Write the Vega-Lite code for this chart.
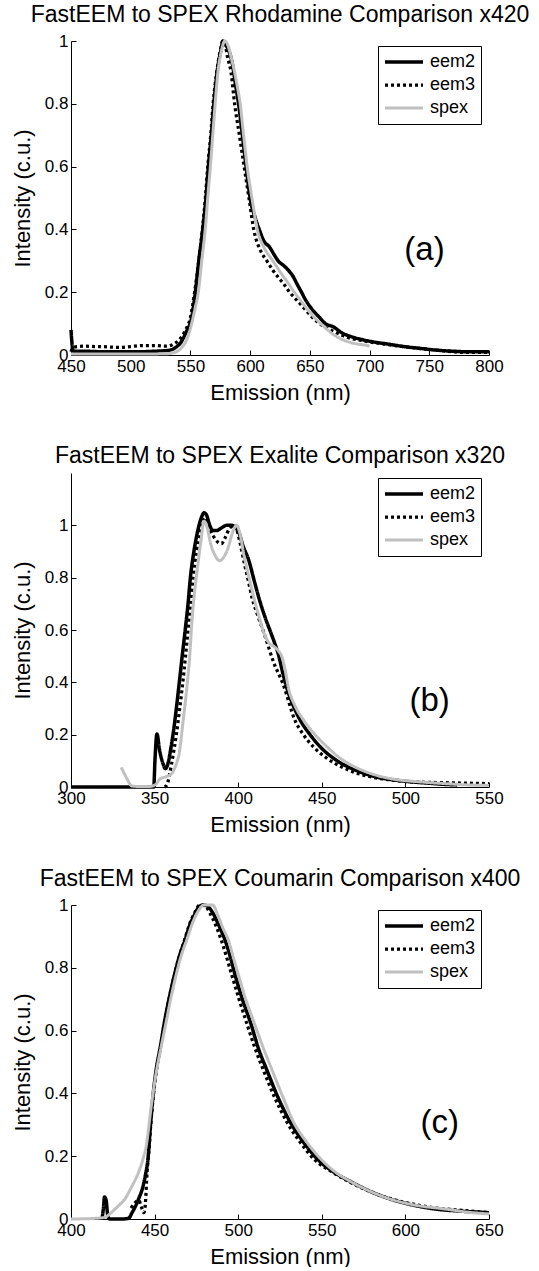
{
  "$schema": "https://vega.github.io/schema/vega-lite/v6.json",
  "background": "white",
  "padding": {"left": 11, "top": 4, "right": 0, "bottom": 0},
  "spacing": 118,
  "bounds": "flush",
  "config": {
    "view": {"stroke": null},
    "font": "Liberation Sans",
    "axis": {"domainColor": "black", "domainWidth": 1, "tickColor": "black", "tickSize": -5, "labelColor": "black", "titleColor": "black", "labelFontSize": 17, "titleFontSize": 22, "titleFontWeight": "normal", "grid": false, "labelOverlap": false, "labelFlush": false, "labelPadding": 8},
    "axisX": {"titlePadding": 8},
    "axisY": {"titlePadding": 10},
    "title": {"fontSize": 23, "fontWeight": "normal", "color": "black", "anchor": "middle", "frame": "group", "offset": 5},
    "legend": {"orient": "none", "legendX": 307, "legendY": 5, "strokeColor": "black", "fillColor": "white", "padding": 5, "symbolType": "stroke", "symbolSize": 1444, "labelFontSize": 18, "labelColor": "black", "clipHeight": 22, "rowPadding": 1, "labelOffset": 5, "title": null}
  },
  "datasets": {
    "a": [
      {"series":"eem2","nm":450,"intensity":0.08},{"series":"eem2","nm":451,"intensity":0.03},{"series":"eem2","nm":452,"intensity":0.012},{"series":"eem2","nm":460,"intensity":0.012},{"series":"eem2","nm":480,"intensity":0.01},{"series":"eem2","nm":500,"intensity":0.01},{"series":"eem2","nm":520,"intensity":0.012},{"series":"eem2","nm":532,"intensity":0.015},{"series":"eem2","nm":538,"intensity":0.025},{"series":"eem2","nm":542,"intensity":0.04},{"series":"eem2","nm":546,"intensity":0.07},{"series":"eem2","nm":551,"intensity":0.12},{"series":"eem2","nm":554,"intensity":0.196},{"series":"eem2","nm":557,"intensity":0.3},{"series":"eem2","nm":560.3,"intensity":0.4},{"series":"eem2","nm":563,"intensity":0.5},{"series":"eem2","nm":565,"intensity":0.6},{"series":"eem2","nm":567.5,"intensity":0.7},{"series":"eem2","nm":569.6,"intensity":0.8},{"series":"eem2","nm":573,"intensity":0.92},{"series":"eem2","nm":575.5,"intensity":0.97},{"series":"eem2","nm":577.3,"intensity":1.0},{"series":"eem2","nm":579,"intensity":0.99},{"series":"eem2","nm":582,"intensity":0.97},{"series":"eem2","nm":585,"intensity":0.93},{"series":"eem2","nm":587.4,"intensity":0.87},{"series":"eem2","nm":590.3,"intensity":0.8},{"series":"eem2","nm":593.5,"intensity":0.7},{"series":"eem2","nm":596.6,"intensity":0.6},{"series":"eem2","nm":600.4,"intensity":0.49},{"series":"eem2","nm":604,"intensity":0.44},{"series":"eem2","nm":607.6,"intensity":0.4},{"series":"eem2","nm":612,"intensity":0.36},{"series":"eem2","nm":616,"intensity":0.345},{"series":"eem2","nm":620,"intensity":0.32},{"series":"eem2","nm":623.4,"intensity":0.3},{"series":"eem2","nm":628,"intensity":0.285},{"series":"eem2","nm":632,"intensity":0.27},{"series":"eem2","nm":636,"intensity":0.25},{"series":"eem2","nm":639,"intensity":0.228},{"series":"eem2","nm":643,"intensity":0.2},{"series":"eem2","nm":646.5,"intensity":0.175},{"series":"eem2","nm":652,"intensity":0.145},{"series":"eem2","nm":658,"intensity":0.12},{"series":"eem2","nm":663,"intensity":0.1},{"series":"eem2","nm":669.5,"intensity":0.09},{"series":"eem2","nm":677,"intensity":0.07},{"series":"eem2","nm":685,"intensity":0.058},{"series":"eem2","nm":695,"intensity":0.048},{"series":"eem2","nm":702.6,"intensity":0.042},{"series":"eem2","nm":715,"intensity":0.035},{"series":"eem2","nm":728.6,"intensity":0.027},{"series":"eem2","nm":740,"intensity":0.022},{"series":"eem2","nm":754.5,"intensity":0.016},{"series":"eem2","nm":770,"intensity":0.012},{"series":"eem2","nm":785,"intensity":0.01},{"series":"eem2","nm":800,"intensity":0.01},
      {"series":"eem3","nm":450,"intensity":0.01},{"series":"eem3","nm":452,"intensity":0.025},{"series":"eem3","nm":460,"intensity":0.028},{"series":"eem3","nm":470,"intensity":0.027},{"series":"eem3","nm":480,"intensity":0.026},{"series":"eem3","nm":490,"intensity":0.024},{"series":"eem3","nm":500,"intensity":0.027},{"series":"eem3","nm":510,"intensity":0.03},{"series":"eem3","nm":520,"intensity":0.03},{"series":"eem3","nm":530,"intensity":0.028},{"series":"eem3","nm":536,"intensity":0.035},{"series":"eem3","nm":541,"intensity":0.05},{"series":"eem3","nm":546,"intensity":0.08},{"series":"eem3","nm":550,"intensity":0.12},{"series":"eem3","nm":553.5,"intensity":0.2},{"series":"eem3","nm":557,"intensity":0.3},{"series":"eem3","nm":560,"intensity":0.4},{"series":"eem3","nm":562.5,"intensity":0.5},{"series":"eem3","nm":564.5,"intensity":0.6},{"series":"eem3","nm":567,"intensity":0.7},{"series":"eem3","nm":569,"intensity":0.8},{"series":"eem3","nm":572,"intensity":0.9},{"series":"eem3","nm":575,"intensity":0.97},{"series":"eem3","nm":577,"intensity":1.0},{"series":"eem3","nm":579,"intensity":0.99},{"series":"eem3","nm":581,"intensity":0.95},{"series":"eem3","nm":584,"intensity":0.9},{"series":"eem3","nm":587,"intensity":0.8},{"series":"eem3","nm":591,"intensity":0.7},{"series":"eem3","nm":595,"intensity":0.6},{"series":"eem3","nm":599,"intensity":0.5},{"series":"eem3","nm":603,"intensity":0.4},{"series":"eem3","nm":609,"intensity":0.33},{"series":"eem3","nm":614,"intensity":0.3},{"series":"eem3","nm":619,"intensity":0.27},{"series":"eem3","nm":624,"intensity":0.245},{"series":"eem3","nm":627.8,"intensity":0.228},{"series":"eem3","nm":633,"intensity":0.2},{"series":"eem3","nm":639,"intensity":0.175},{"series":"eem3","nm":645,"intensity":0.15},{"series":"eem3","nm":652,"intensity":0.12},{"series":"eem3","nm":660,"intensity":0.095},{"series":"eem3","nm":670,"intensity":0.075},{"series":"eem3","nm":680,"intensity":0.058},{"series":"eem3","nm":695,"intensity":0.045},{"series":"eem3","nm":710,"intensity":0.036},{"series":"eem3","nm":730,"intensity":0.026},{"series":"eem3","nm":750,"intensity":0.018},{"series":"eem3","nm":765,"intensity":0.012},{"series":"eem3","nm":780,"intensity":0.008},{"series":"eem3","nm":800,"intensity":0.008},
      {"series":"spex","nm":450,"intensity":0.003},{"series":"spex","nm":500,"intensity":0.003},{"series":"spex","nm":530,"intensity":0.004},{"series":"spex","nm":538,"intensity":0.01},{"series":"spex","nm":543,"intensity":0.025},{"series":"spex","nm":547,"intensity":0.05},{"series":"spex","nm":551,"intensity":0.1},{"series":"spex","nm":554,"intensity":0.15},{"series":"spex","nm":556.6,"intensity":0.2},{"series":"spex","nm":559.5,"intensity":0.3},{"series":"spex","nm":562.4,"intensity":0.4},{"series":"spex","nm":564.5,"intensity":0.5},{"series":"spex","nm":566.7,"intensity":0.6},{"series":"spex","nm":568.7,"intensity":0.7},{"series":"spex","nm":570.7,"intensity":0.8},{"series":"spex","nm":573,"intensity":0.9},{"series":"spex","nm":576,"intensity":0.97},{"series":"spex","nm":578.8,"intensity":1.0},{"series":"spex","nm":581,"intensity":0.99},{"series":"spex","nm":584,"intensity":0.95},{"series":"spex","nm":587,"intensity":0.9},{"series":"spex","nm":589.5,"intensity":0.85},{"series":"spex","nm":591.7,"intensity":0.8},{"series":"spex","nm":594.5,"intensity":0.7},{"series":"spex","nm":597.5,"intensity":0.6},{"series":"spex","nm":601.5,"intensity":0.5},{"series":"spex","nm":606,"intensity":0.4},{"series":"spex","nm":612,"intensity":0.34},{"series":"spex","nm":619,"intensity":0.3},{"series":"spex","nm":626,"intensity":0.26},{"series":"spex","nm":632,"intensity":0.228},{"series":"spex","nm":637,"intensity":0.2},{"series":"spex","nm":642,"intensity":0.175},{"series":"spex","nm":648,"intensity":0.145},{"series":"spex","nm":653.7,"intensity":0.12},{"series":"spex","nm":662,"intensity":0.09},{"series":"spex","nm":668,"intensity":0.07},{"series":"spex","nm":676.7,"intensity":0.05},{"series":"spex","nm":687,"intensity":0.037},{"series":"spex","nm":698,"intensity":0.03},{"series":"spex","nm":700,"intensity":0.028}
    ],
    "b": [
      {"series":"eem2","nm":300,"intensity":0},{"series":"eem2","nm":340,"intensity":0},{"series":"eem2","nm":349.5,"intensity":0},{"series":"eem2","nm":350.2,"intensity":0.1},{"series":"eem2","nm":351.4,"intensity":0.203},{"series":"eem2","nm":353,"intensity":0.14},{"series":"eem2","nm":355,"intensity":0.09},{"series":"eem2","nm":356.4,"intensity":0.07},{"series":"eem2","nm":358,"intensity":0.09},{"series":"eem2","nm":359.5,"intensity":0.14},{"series":"eem2","nm":361,"intensity":0.2},{"series":"eem2","nm":363,"intensity":0.3},{"series":"eem2","nm":364.6,"intensity":0.39},{"series":"eem2","nm":366.5,"intensity":0.5},{"series":"eem2","nm":368.3,"intensity":0.6},{"series":"eem2","nm":370,"intensity":0.7},{"series":"eem2","nm":371.4,"intensity":0.8},{"series":"eem2","nm":373.5,"intensity":0.9},{"series":"eem2","nm":375.5,"intensity":0.97},{"series":"eem2","nm":378,"intensity":1.03},{"series":"eem2","nm":379.6,"intensity":1.048},{"series":"eem2","nm":381,"intensity":1.04},{"series":"eem2","nm":383,"intensity":1.0},{"series":"eem2","nm":384.8,"intensity":0.98},{"series":"eem2","nm":387,"intensity":0.98},{"series":"eem2","nm":390,"intensity":0.99},{"series":"eem2","nm":393,"intensity":1.0},{"series":"eem2","nm":396,"intensity":1.0},{"series":"eem2","nm":398.5,"intensity":0.99},{"series":"eem2","nm":400.2,"intensity":0.975},{"series":"eem2","nm":403,"intensity":0.92},{"series":"eem2","nm":406.4,"intensity":0.865},{"series":"eem2","nm":409.5,"intensity":0.79},{"series":"eem2","nm":412.5,"intensity":0.72},{"series":"eem2","nm":416,"intensity":0.65},{"series":"eem2","nm":419.8,"intensity":0.585},{"series":"eem2","nm":421.8,"intensity":0.55},{"series":"eem2","nm":423.9,"intensity":0.51},{"series":"eem2","nm":426.5,"intensity":0.44},{"series":"eem2","nm":429,"intensity":0.38},{"series":"eem2","nm":433,"intensity":0.31},{"series":"eem2","nm":437.2,"intensity":0.254},{"series":"eem2","nm":443,"intensity":0.2},{"series":"eem2","nm":449.6,"intensity":0.15},{"series":"eem2","nm":457,"intensity":0.11},{"series":"eem2","nm":466,"intensity":0.076},{"series":"eem2","nm":474,"intensity":0.055},{"series":"eem2","nm":482.5,"intensity":0.038},{"series":"eem2","nm":492,"intensity":0.028},{"series":"eem2","nm":503,"intensity":0.02},{"series":"eem2","nm":515,"intensity":0.014},{"series":"eem2","nm":523.5,"intensity":0.01},{"series":"eem2","nm":531,"intensity":0.008},
      {"series":"eem3","nm":356,"intensity":0},{"series":"eem3","nm":357.5,"intensity":0.01},{"series":"eem3","nm":359,"intensity":0.05},{"series":"eem3","nm":361,"intensity":0.12},{"series":"eem3","nm":363,"intensity":0.2},{"series":"eem3","nm":365,"intensity":0.3},{"series":"eem3","nm":366.7,"intensity":0.39},{"series":"eem3","nm":368.5,"intensity":0.5},{"series":"eem3","nm":370,"intensity":0.6},{"series":"eem3","nm":371.5,"intensity":0.7},{"series":"eem3","nm":373,"intensity":0.8},{"series":"eem3","nm":375,"intensity":0.9},{"series":"eem3","nm":377,"intensity":0.97},{"series":"eem3","nm":379.6,"intensity":1.03},{"series":"eem3","nm":382,"intensity":1.0},{"series":"eem3","nm":385,"intensity":0.96},{"series":"eem3","nm":388,"intensity":0.935},{"series":"eem3","nm":390,"intensity":0.93},{"series":"eem3","nm":392,"intensity":0.95},{"series":"eem3","nm":395,"intensity":0.99},{"series":"eem3","nm":398,"intensity":1.0},{"series":"eem3","nm":400.5,"intensity":0.95},{"series":"eem3","nm":403.3,"intensity":0.865},{"series":"eem3","nm":406,"intensity":0.79},{"series":"eem3","nm":408.4,"intensity":0.72},{"series":"eem3","nm":412,"intensity":0.65},{"series":"eem3","nm":415.6,"intensity":0.585},{"series":"eem3","nm":421,"intensity":0.48},{"series":"eem3","nm":427,"intensity":0.39},{"series":"eem3","nm":434,"intensity":0.254},{"series":"eem3","nm":439,"intensity":0.2},{"series":"eem3","nm":445.5,"intensity":0.15},{"series":"eem3","nm":453,"intensity":0.11},{"series":"eem3","nm":462,"intensity":0.076},{"series":"eem3","nm":470,"intensity":0.055},{"series":"eem3","nm":478.4,"intensity":0.04},{"series":"eem3","nm":490,"intensity":0.028},{"series":"eem3","nm":503,"intensity":0.02},{"series":"eem3","nm":520,"intensity":0.017},{"series":"eem3","nm":535,"intensity":0.015},{"series":"eem3","nm":550,"intensity":0.013},
      {"series":"spex","nm":330,"intensity":0.075},{"series":"spex","nm":332,"intensity":0.05},{"series":"spex","nm":334,"intensity":0.025},{"series":"spex","nm":336.4,"intensity":0.004},{"series":"spex","nm":340,"intensity":0.002},{"series":"spex","nm":346.7,"intensity":0.002},{"series":"spex","nm":350.8,"intensity":0.01},{"series":"spex","nm":353,"intensity":0.03},{"series":"spex","nm":357,"intensity":0.04},{"series":"spex","nm":360,"intensity":0.05},{"series":"spex","nm":362.5,"intensity":0.08},{"series":"spex","nm":365,"intensity":0.14},{"series":"spex","nm":367,"intensity":0.25},{"series":"spex","nm":369.3,"intensity":0.38},{"series":"spex","nm":371,"intensity":0.5},{"series":"spex","nm":372.4,"intensity":0.64},{"series":"spex","nm":374,"intensity":0.75},{"series":"spex","nm":375.5,"intensity":0.83},{"series":"spex","nm":377.5,"intensity":0.93},{"series":"spex","nm":379.6,"intensity":1.016},{"series":"spex","nm":381.5,"intensity":0.99},{"series":"spex","nm":383.5,"intensity":0.93},{"series":"spex","nm":385.8,"intensity":0.89},{"series":"spex","nm":388.9,"intensity":0.865},{"series":"spex","nm":391.5,"intensity":0.88},{"series":"spex","nm":394,"intensity":0.915},{"series":"spex","nm":396.5,"intensity":0.97},{"series":"spex","nm":399,"intensity":1.0},{"series":"spex","nm":401,"intensity":0.97},{"series":"spex","nm":403.3,"intensity":0.89},{"series":"spex","nm":406.5,"intensity":0.8},{"series":"spex","nm":409.5,"intensity":0.72},{"series":"spex","nm":412.5,"intensity":0.65},{"series":"spex","nm":415.6,"intensity":0.585},{"series":"spex","nm":418.5,"intensity":0.55},{"series":"spex","nm":421.8,"intensity":0.535},{"series":"spex","nm":424,"intensity":0.52},{"series":"spex","nm":426,"intensity":0.5},{"series":"spex","nm":428,"intensity":0.45},{"series":"spex","nm":430,"intensity":0.38},{"series":"spex","nm":434,"intensity":0.31},{"series":"spex","nm":439.3,"intensity":0.254},{"series":"spex","nm":446,"intensity":0.2},{"series":"spex","nm":453.7,"intensity":0.15},{"series":"spex","nm":461,"intensity":0.11},{"series":"spex","nm":470,"intensity":0.076},{"series":"spex","nm":480,"intensity":0.05},{"series":"spex","nm":492.8,"intensity":0.03},{"series":"spex","nm":508,"intensity":0.02},{"series":"spex","nm":523.7,"intensity":0.013},{"series":"spex","nm":537,"intensity":0.008},{"series":"spex","nm":550,"intensity":0.006}
    ],
    "c": [
      {"series":"eem2","nm":418.5,"intensity":0},{"series":"eem2","nm":419.5,"intensity":0.04},{"series":"eem2","nm":420,"intensity":0.07},{"series":"eem2","nm":421,"intensity":0.06},{"series":"eem2","nm":422,"intensity":0.01},{"series":"eem2","nm":423,"intensity":0},{"series":"eem2","nm":430,"intensity":0},{"series":"eem2","nm":434.4,"intensity":0.002},{"series":"eem2","nm":436.5,"intensity":0.02},{"series":"eem2","nm":438.5,"intensity":0.04},{"series":"eem2","nm":440.5,"intensity":0.065},{"series":"eem2","nm":442.6,"intensity":0.095},{"series":"eem2","nm":444.5,"intensity":0.14},{"series":"eem2","nm":446,"intensity":0.19},{"series":"eem2","nm":447.7,"intensity":0.31},{"series":"eem2","nm":449.2,"intensity":0.4},{"series":"eem2","nm":450.8,"intensity":0.47},{"series":"eem2","nm":453.5,"intensity":0.55},{"series":"eem2","nm":456,"intensity":0.63},{"series":"eem2","nm":459,"intensity":0.71},{"series":"eem2","nm":462,"intensity":0.78},{"series":"eem2","nm":465,"intensity":0.84},{"series":"eem2","nm":468.3,"intensity":0.89},{"series":"eem2","nm":471,"intensity":0.935},{"series":"eem2","nm":473.5,"intensity":0.965},{"series":"eem2","nm":476,"intensity":0.99},{"series":"eem2","nm":478.6,"intensity":1.0},{"series":"eem2","nm":481,"intensity":0.998},{"series":"eem2","nm":484.8,"intensity":0.975},{"series":"eem2","nm":488,"intensity":0.94},{"series":"eem2","nm":492,"intensity":0.89},{"series":"eem2","nm":495,"intensity":0.84},{"series":"eem2","nm":498,"intensity":0.78},{"series":"eem2","nm":502.5,"intensity":0.7},{"series":"eem2","nm":507.4,"intensity":0.625},{"series":"eem2","nm":512,"intensity":0.545},{"series":"eem2","nm":517.7,"intensity":0.467},{"series":"eem2","nm":524,"intensity":0.385},{"series":"eem2","nm":531,"intensity":0.31},{"series":"eem2","nm":539,"intensity":0.245},{"series":"eem2","nm":547.5,"intensity":0.19},{"series":"eem2","nm":557,"intensity":0.15},{"series":"eem2","nm":568,"intensity":0.117},{"series":"eem2","nm":579,"intensity":0.088},{"series":"eem2","nm":590.7,"intensity":0.064},{"series":"eem2","nm":604,"intensity":0.045},{"series":"eem2","nm":617.5,"intensity":0.032},{"series":"eem2","nm":633,"intensity":0.025},{"series":"eem2","nm":650,"intensity":0.02},
      {"series":"eem3","nm":436,"intensity":0.035},{"series":"eem3","nm":438,"intensity":0.05},{"series":"eem3","nm":440.5,"intensity":0.06},{"series":"eem3","nm":442,"intensity":0.04},{"series":"eem3","nm":443.6,"intensity":0.02},{"series":"eem3","nm":444.5,"intensity":0.05},{"series":"eem3","nm":445.5,"intensity":0.15},{"series":"eem3","nm":446.5,"intensity":0.21},{"series":"eem3","nm":447.7,"intensity":0.3},{"series":"eem3","nm":449.2,"intensity":0.39},{"series":"eem3","nm":451,"intensity":0.47},{"series":"eem3","nm":453.5,"intensity":0.55},{"series":"eem3","nm":456,"intensity":0.63},{"series":"eem3","nm":459,"intensity":0.71},{"series":"eem3","nm":462,"intensity":0.78},{"series":"eem3","nm":465,"intensity":0.84},{"series":"eem3","nm":468,"intensity":0.89},{"series":"eem3","nm":471,"intensity":0.94},{"series":"eem3","nm":474,"intensity":0.975},{"series":"eem3","nm":477,"intensity":1.0},{"series":"eem3","nm":480,"intensity":0.998},{"series":"eem3","nm":483.5,"intensity":0.97},{"series":"eem3","nm":487,"intensity":0.93},{"series":"eem3","nm":491,"intensity":0.87},{"series":"eem3","nm":496,"intensity":0.78},{"series":"eem3","nm":500.5,"intensity":0.7},{"series":"eem3","nm":505,"intensity":0.625},{"series":"eem3","nm":510,"intensity":0.545},{"series":"eem3","nm":515.6,"intensity":0.467},{"series":"eem3","nm":522,"intensity":0.385},{"series":"eem3","nm":529,"intensity":0.31},{"series":"eem3","nm":537,"intensity":0.245},{"series":"eem3","nm":545.5,"intensity":0.19},{"series":"eem3","nm":556,"intensity":0.15},{"series":"eem3","nm":567,"intensity":0.117},{"series":"eem3","nm":580,"intensity":0.085},{"series":"eem3","nm":593,"intensity":0.062},{"series":"eem3","nm":607,"intensity":0.045},{"series":"eem3","nm":620,"intensity":0.034},{"series":"eem3","nm":635,"intensity":0.027},{"series":"eem3","nm":650,"intensity":0.02},
      {"series":"spex","nm":400,"intensity":0},{"series":"spex","nm":410,"intensity":0.001},{"series":"spex","nm":420,"intensity":0.005},{"series":"spex","nm":423,"intensity":0.015},{"series":"spex","nm":426,"intensity":0.03},{"series":"spex","nm":429,"intensity":0.045},{"series":"spex","nm":432.3,"intensity":0.064},{"series":"spex","nm":436,"intensity":0.1},{"series":"spex","nm":440.5,"intensity":0.15},{"series":"spex","nm":443,"intensity":0.19},{"series":"spex","nm":445,"intensity":0.233},{"series":"spex","nm":448,"intensity":0.36},{"series":"spex","nm":451,"intensity":0.467},{"series":"spex","nm":454,"intensity":0.55},{"series":"spex","nm":457,"intensity":0.63},{"series":"spex","nm":460,"intensity":0.71},{"series":"spex","nm":463,"intensity":0.78},{"series":"spex","nm":466,"intensity":0.84},{"series":"spex","nm":469.3,"intensity":0.89},{"series":"spex","nm":472.5,"intensity":0.94},{"series":"spex","nm":476,"intensity":0.98},{"series":"spex","nm":479.6,"intensity":1.0},{"series":"spex","nm":484.8,"intensity":1.0},{"series":"spex","nm":488,"intensity":0.965},{"series":"spex","nm":491,"intensity":0.925},{"series":"spex","nm":494,"intensity":0.89},{"series":"spex","nm":497,"intensity":0.835},{"series":"spex","nm":500,"intensity":0.78},{"series":"spex","nm":504.5,"intensity":0.7},{"series":"spex","nm":509.5,"intensity":0.625},{"series":"spex","nm":515,"intensity":0.545},{"series":"spex","nm":520.8,"intensity":0.467},{"series":"spex","nm":527,"intensity":0.385},{"series":"spex","nm":533,"intensity":0.31},{"series":"spex","nm":541,"intensity":0.245},{"series":"spex","nm":549.6,"intensity":0.19},{"series":"spex","nm":558,"intensity":0.15},{"series":"spex","nm":568,"intensity":0.117},{"series":"spex","nm":579,"intensity":0.088},{"series":"spex","nm":590.7,"intensity":0.064},{"series":"spex","nm":606,"intensity":0.044},{"series":"spex","nm":623.7,"intensity":0.032},{"series":"spex","nm":637,"intensity":0.022},{"series":"spex","nm":650,"intensity":0.016}
    ],
    "labels": [
      {"panel":"a","nm":746,"intensity":0.334,"text":"(a)"},
      {"panel":"b","nm":514.5,"intensity":0.33,"text":"(b)"},
      {"panel":"c","nm":620.6,"intensity":0.307,"text":"(c)"}
    ]
  },
  "vconcat": [
    {
      "title": "FastEEM to SPEX Rhodamine Comparison x420",
      "width": 418, "height": 314,
      "layer": [
        {
          "data": {"name": "a"},
          "mark": {"type": "line", "interpolate": "monotone"},
          "encoding": {
            "x": {"field": "nm", "type": "quantitative", "scale": {"domain": [450, 800], "nice": false, "zero": false}, "axis": {"title": "Emission (nm)", "values": [450,500,550,600,650,700,750,800]}},
            "y": {"field": "intensity", "type": "quantitative", "scale": {"domain": [0, 1], "nice": false}, "axis": {"title": "Intensity (c.u.)", "values": [0,0.2,0.4,0.6,0.8,1], "format": ".1~f"}},
            "color": {"field": "series", "type": "nominal", "scale": {"domain": ["eem2","eem3","spex"], "range": ["black","black","#c0c0c0"]}},
            "strokeDash": {"field": "series", "type": "nominal", "scale": {"domain": ["eem2","eem3","spex"], "range": [[1,0],[3,3],[1,0]]}},
            "strokeWidth": {"field": "series", "type": "ordinal", "scale": {"domain": ["eem2","eem3","spex"], "range": [3.5,3,5]}}
          }
        },
        {
          "data": {"name": "labels"},
          "transform": [{"filter": "datum.panel == 'a'"}],
          "mark": {"type": "text", "fontSize": 33, "baseline": "middle", "align": "center", "color": "black"},
          "encoding": {"x": {"field": "nm", "type": "quantitative"}, "y": {"field": "intensity", "type": "quantitative"}, "text": {"field": "text"}}
        }
      ]
    },
    {
      "title": "FastEEM to SPEX Exalite Comparison x320",
      "width": 418, "height": 314,
      "layer": [
        {
          "data": {"name": "b"},
          "mark": {"type": "line", "interpolate": "monotone"},
          "encoding": {
            "x": {"field": "nm", "type": "quantitative", "scale": {"domain": [300, 550], "nice": false, "zero": false}, "axis": {"title": "Emission (nm)", "values": [300,350,400,450,500,550]}},
            "y": {"field": "intensity", "type": "quantitative", "scale": {"domain": [0, 1.2], "nice": false}, "axis": {"title": "Intensity (c.u.)", "values": [0,0.2,0.4,0.6,0.8,1], "format": ".1~f"}},
            "color": {"field": "series", "type": "nominal", "scale": {"domain": ["eem2","eem3","spex"], "range": ["black","black","#c0c0c0"]}},
            "strokeDash": {"field": "series", "type": "nominal", "scale": {"domain": ["eem2","eem3","spex"], "range": [[1,0],[3,3],[1,0]]}},
            "strokeWidth": {"field": "series", "type": "ordinal", "scale": {"domain": ["eem2","eem3","spex"], "range": [3.5,3,5]}}
          }
        },
        {
          "data": {"name": "labels"},
          "transform": [{"filter": "datum.panel == 'b'"}],
          "mark": {"type": "text", "fontSize": 33, "baseline": "middle", "align": "center", "color": "black"},
          "encoding": {"x": {"field": "nm", "type": "quantitative"}, "y": {"field": "intensity", "type": "quantitative"}, "text": {"field": "text"}}
        }
      ]
    },
    {
      "title": "FastEEM to SPEX Coumarin Comparison x400",
      "width": 418, "height": 314,
      "layer": [
        {
          "data": {"name": "c"},
          "mark": {"type": "line", "interpolate": "monotone"},
          "encoding": {
            "x": {"field": "nm", "type": "quantitative", "scale": {"domain": [400, 650], "nice": false, "zero": false}, "axis": {"title": "Emission (nm)", "values": [400,450,500,550,600,650]}},
            "y": {"field": "intensity", "type": "quantitative", "scale": {"domain": [0, 1], "nice": false}, "axis": {"title": "Intensity (c.u.)", "values": [0,0.2,0.4,0.6,0.8,1], "format": ".1~f"}},
            "color": {"field": "series", "type": "nominal", "scale": {"domain": ["eem2","eem3","spex"], "range": ["black","black","#c0c0c0"]}},
            "strokeDash": {"field": "series", "type": "nominal", "scale": {"domain": ["eem2","eem3","spex"], "range": [[1,0],[3,3],[1,0]]}},
            "strokeWidth": {"field": "series", "type": "ordinal", "scale": {"domain": ["eem2","eem3","spex"], "range": [3.5,3,5]}}
          }
        },
        {
          "data": {"name": "labels"},
          "transform": [{"filter": "datum.panel == 'c'"}],
          "mark": {"type": "text", "fontSize": 33, "baseline": "middle", "align": "center", "color": "black"},
          "encoding": {"x": {"field": "nm", "type": "quantitative"}, "y": {"field": "intensity", "type": "quantitative"}, "text": {"field": "text"}}
        }
      ]
    }
  ],
  "resolve": {
    "scale": {"x": "independent", "y": "independent", "color": "independent", "strokeDash": "independent", "strokeWidth": "independent"},
    "legend": {"color": "independent", "strokeDash": "independent", "strokeWidth": "independent"}
  }
}
